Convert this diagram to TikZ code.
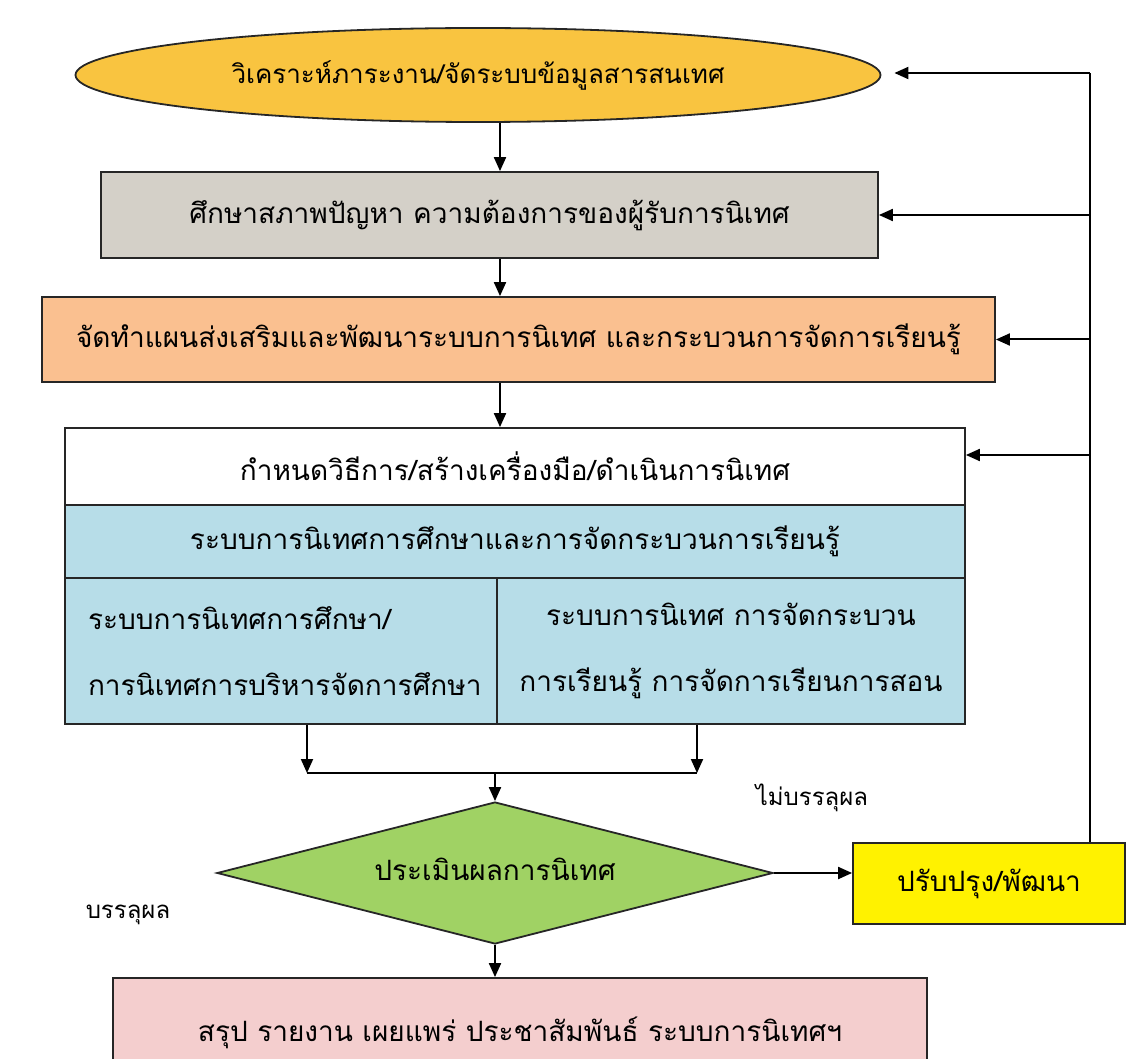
\documentclass[tikz,border=0pt]{standalone}
\usepackage{fontspec}
\newfontfamily\thaifont[Script=Thai]{Loma}
\usetikzlibrary{shapes.geometric,arrows.meta}

\definecolor{goldfill}{RGB}{249,196,64}
\definecolor{grayfill}{RGB}{212,208,200}
\definecolor{peachfill}{RGB}{250,192,144}
\definecolor{bluefill}{RGB}{183,221,232}
\definecolor{greenfill}{RGB}{160,210,100}
\definecolor{pinkfill}{RGB}{244,206,206}

\tikzset{
    box/.style = {draw=black!85, line width=1.8pt, inner sep=0pt, font=\thaifont\fontsize{28}{30}\selectfont},
    note/.style = {font=\thaifont\fontsize{24}{28}\selectfont},
    arr/.style = {line width=2pt, -{Triangle[length=14pt,width=12pt]}},
    link/.style = {line width=2pt},
}

\begin{document}
\begin{tikzpicture}[x=1pt, y=-1pt]
    \useasboundingbox (0,0) rectangle (1130,1059);

    % main column
    \node[box, ellipse, fill=goldfill, minimum width=805pt, minimum height=94pt, font=\thaifont\fontsize{26}{30}\selectfont] (analyse) at (478,75) {วิเคราะห์ภาระงาน/จัดระบบข้อมูลสารสนเทศ};
    \node[box, fill=grayfill, minimum width=777pt, minimum height=86pt] (study) at (489.5,215) {ศึกษาสภาพปัญหา ความต้องการของผู้รับการนิเทศ};
    \node[box, fill=peachfill, minimum width=953pt, minimum height=85pt] (plan) at (518.5,339.5) {จัดทำแผนส่งเสริมและพัฒนาระบบการนิเทศ และกระบวนการจัดการเรียนรู้};

    % supervision block
    \node[box, fill=white, minimum width=900pt, minimum height=77pt] (method) at (515,466.5) {กำหนดวิธีการ/สร้างเครื่องมือ/ดำเนินการนิเทศ};
    \node[box, fill=bluefill, minimum width=900pt, minimum height=73pt] (system) at (515,541.5) {ระบบการนิเทศการศึกษาและการจัดกระบวนการเรียนรู้};
    \node[box, fill=bluefill, minimum width=432pt, minimum height=146pt, align=left, text width=386pt] (left) at (281,651) {ระบบการนิเทศการศึกษา/\\[36pt]การนิเทศการบริหารจัดการศึกษา};
    \node[box, fill=bluefill, minimum width=468pt, minimum height=146pt, align=center] (right) at (731,651) {ระบบการนิเทศ การจัดกระบวน\\[36pt]การเรียนรู้ การจัดการเรียนการสอน};

    % evaluation
    \node[box, diamond, aspect=3.9, fill=greenfill, minimum width=556pt, minimum height=142pt] (judge) at (495,873) {\raisebox{8pt}{ประเมินผลการนิเทศ}};
    \node[box, fill=yellow, minimum width=272pt, minimum height=81pt] (fix) at (989,883.5) {ปรับปรุง/พัฒนา};
    \node[box, fill=pinkfill, minimum width=814pt, minimum height=110pt] (report) at (520,1033) {สรุป รายงาน เผยแพร่ ประชาสัมพันธ์ ระบบการนิเทศฯ};

    \node[note] (fail) at (812,798) {ไม่บรรลุผล};
    \node[note] (pass) at (128,915) {บรรลุผล};

    % down arrows
    \draw[arr] (analyse.south -| 500,0) -- (study.north -| 500,0);
    \draw[arr] (study.south -| 500,0) -- (plan.north -| 500,0);
    \draw[arr] (plan.south -| 500,0) -- (method.north -| 500,0);

    \coordinate (ml) at (307,773);
    \coordinate (mr) at (697,773);
    \coordinate (mm) at (495,773);
    \draw[arr] (left.south -| ml) -- (ml);
    \draw[arr] (right.south -| mr) -- (mr);
    \draw[link] (ml) -- (mr);
    \draw[arr] (mm) -- (judge.north);
    \draw[arr] (judge.south) -- (report.north -| judge.south);
    \draw[arr] (judge.east) -- (judge.east -| fix.west);

    % feedback loop
    \coordinate (rt) at (1090,73);
    \draw[link] (fix.north -| rt) -- (rt);
    \draw[arr, shorten >=13pt] (rt) -- (analyse.east |- rt);
    \draw[arr] (rt |- study.east) -- (study.east);
    \draw[arr] (rt |- plan.east) -- (plan.east);
    \draw[arr] (rt |- 0,455) -- (method.east |- 0,455);
\end{tikzpicture}
\end{document}
